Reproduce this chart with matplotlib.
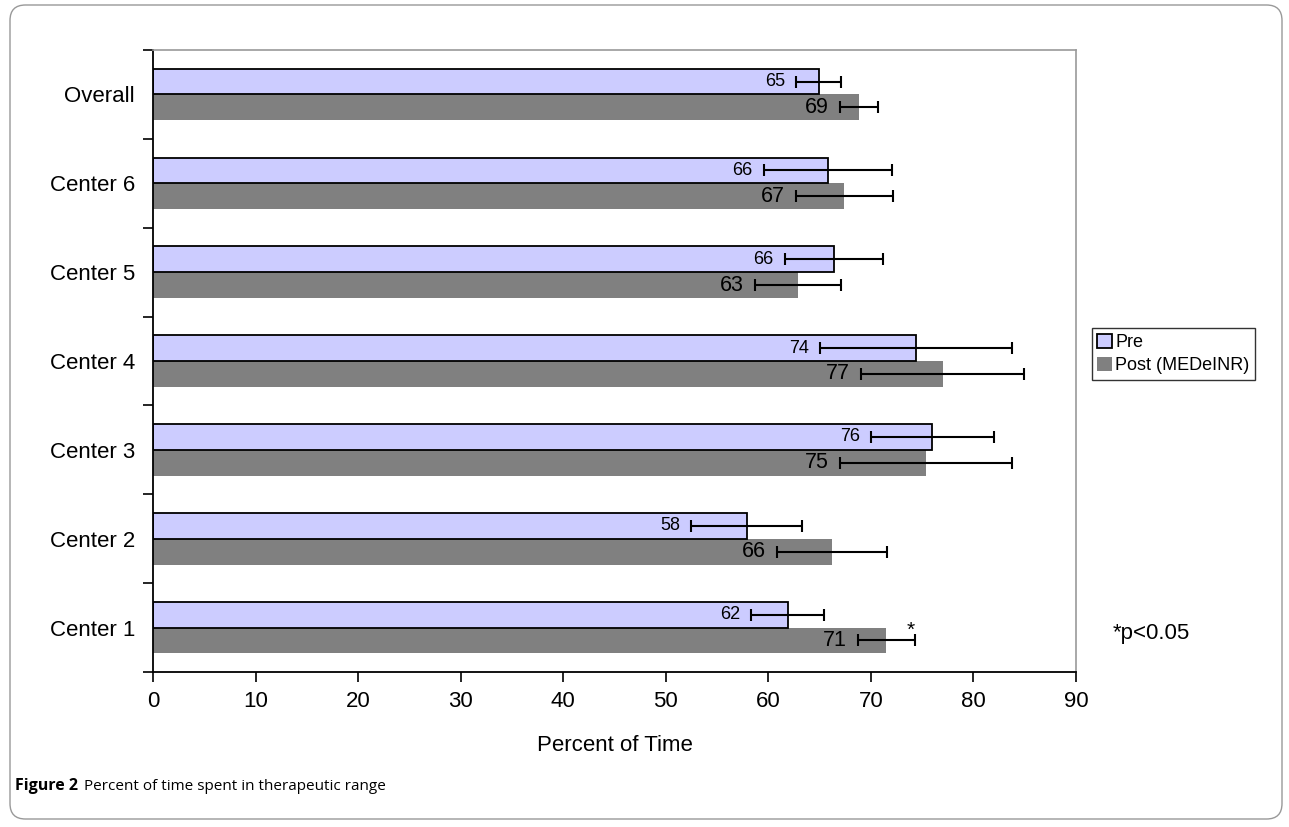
import matplotlib.pyplot as plt
from matplotlib.patches import FancyBboxPatch
import numpy as np

plt.rcParams['font.family'] = ['Liberation Sans', 'DejaVu Sans']

# data (bottom to top)
categories = ["Center 1", "Center 2", "Center 3", "Center 4", "Center 5", "Center 6", "Overall"]
pre = [61.9, 57.9, 76.0, 74.4, 66.4, 65.8, 64.9]
post = [71.5, 66.2, 75.4, 77.0, 62.9, 67.4, 68.8]
pre_err = [3.55, 5.4, 6.0, 9.35, 4.8, 6.25, 2.2]
post_err = [2.8, 5.35, 8.4, 7.95, 4.2, 4.75, 1.85]
pre_labels = ["62", "58", "76", "74", "66", "66", "65"]
post_labels = ["71", "66", "75", "77", "63", "67", "69"]
series_names = ["Pre", "Post (MEDeINR)"]
x_ticks = [0, 10, 20, 30, 40, 50, 60, 70, 80, 90]

pre_color = "#CCCCFF"
post_color = "#808080"

fig = plt.figure(figsize=(12.89, 8.27), dpi=100)
ax = fig.add_axes([0.1187, 0.1874, 0.7161, 0.7521])

y = np.arange(len(categories))
h = 0.29

# bars
b1 = ax.barh(y + h / 2, pre, height=h, color=pre_color, edgecolor="black", linewidth=1.3,
             label=series_names[0], zorder=2)
b2 = ax.barh(y - h / 2, post, height=h, color=post_color, edgecolor="none",
             label=series_names[1], zorder=1)

# error bars
ax.errorbar(pre, y + h / 2, xerr=pre_err, fmt="none", ecolor="black", elinewidth=1.5,
            capsize=4, capthick=1.5, zorder=3)
ax.errorbar(post, y - h / 2, xerr=post_err, fmt="none", ecolor="black", elinewidth=1.5,
            capsize=4, capthick=1.5, zorder=3)

# value labels, left of the lower error bar end
for i in range(len(categories)):
    ax.annotate(pre_labels[i], (pre[i] - pre_err[i], y[i] + h / 2), xytext=(-8, 0),
                textcoords="offset points", ha="right", va="center", fontsize=13, zorder=4)
    ax.annotate(post_labels[i], (post[i] - post_err[i], y[i] - h / 2), xytext=(-8, 0),
                textcoords="offset points", ha="right", va="center", fontsize=15.5, zorder=4)

# significance marker
ax.annotate("*", (post[0] + post_err[0], y[0]), xytext=(-3, -2), textcoords="offset points",
            ha="center", va="center", fontsize=15)

ax.set_xlim(0, 90)
ax.set_ylim(-0.5, len(categories) - 0.5)
ax.set_xticks(x_ticks)
ax.tick_params(axis="x", direction="out", length=7, width=1.2, labelsize=16, pad=7)

# y ticks at group boundaries, labels at group centers
ax.set_yticks(np.arange(-0.5, len(categories), 1.0))
ax.set_yticklabels([])
ax.set_yticks(y, minor=True)
ax.set_yticklabels(categories, minor=True)
ax.tick_params(axis="y", which="major", direction="out", length=7, width=1.2)
ax.tick_params(axis="y", which="minor", length=0, labelsize=16, pad=13)

ax.set_xlabel("Percent of Time", fontsize=16, labelpad=16)

for side in ["left", "bottom"]:
    ax.spines[side].set_color("black")
    ax.spines[side].set_linewidth(1.3)
for side in ["top", "right"]:
    ax.spines[side].set_color("#999999")
    ax.spines[side].set_linewidth(1.2)

# legend
leg = fig.legend(handles=[b1, b2], loc="upper left", bbox_to_anchor=(0.847, 0.603),
                 fontsize=13, frameon=True, fancybox=False, handlelength=0.8,
                 handleheight=0.8, handletextpad=0.2, borderpad=0.3, labelspacing=0.35,
                 borderaxespad=0)
leg.get_frame().set_edgecolor("black")
leg.get_frame().set_linewidth(1.0)

fig.text(0.8635, 0.2334, "*p<0.05", fontsize=16, ha="left", va="center")

# figure caption
cap = fig.text(0.012, 0.049, "Figure 2", fontsize=11.5, fontweight="bold", family="Open Sans",
               ha="left", va="center")
ax.annotate("Percent of time spent in therapeutic range", xy=(1, 0.5), xycoords=cap,
            xytext=(4, 0), textcoords="offset points", fontsize=11, family="Open Sans",
            ha="left", va="center", annotation_clip=False)

# rounded frame around the figure
frame = FancyBboxPatch((10 / 1289, 8 / 827), 1272 / 1289, 814 / 827,
                       boxstyle="round,pad=0,rounding_size=0.012",
                       transform=fig.transFigure, fill=False, edgecolor="#999999",
                       linewidth=1.0, mutation_aspect=1289 / 827)
fig.patches.append(frame)

fig.savefig("out.png", dpi=100)
